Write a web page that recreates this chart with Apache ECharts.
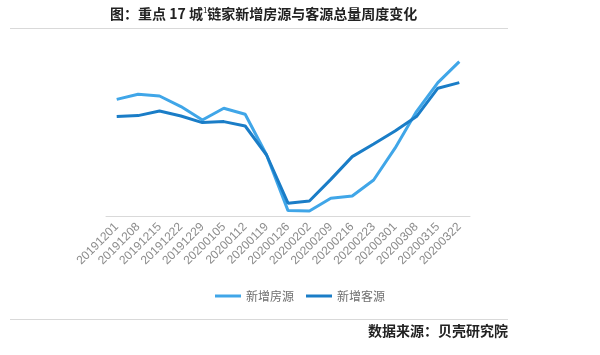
<!DOCTYPE html>
<html><head><meta charset="utf-8">
<script src="https://cdn.jsdelivr.net/npm/echarts@6/dist/echarts.min.js"></script>
<style>html,body{margin:0;padding:0;background:#fff}#c{width:600px;height:355px}</style>
</head><body><div id="c"></div>
<script>
var categories = ['20191201','20191208','20191215','20191222','20191229','20200105','20200112','20200119','20200126','20200202','20200209','20200216','20200223','20200301','20200308','20200315','20200322'];
var newListings = [58.3, 60.9, 60.0, 54.7, 48.0, 53.9, 50.9, 30.5, 2.7, 2.5, 8.9, 10.0, 18.0, 33.9, 52.2, 66.7, 77.2];
var newClients = [49.7, 50.2, 52.5, 50.0, 46.7, 47.2, 45.0, 30.5, 6.4, 7.5, 18.3, 29.7, 36.0, 42.5, 49.7, 63.9, 66.7];
var seriesNames = ['新增房源', '新增客源'];

var chart = echarts.init(document.getElementById('c'));
chart.setOption({
  animation: false,
  graphic: [
    {type: 'text', left: 110, top: 6, style: {
      rich: {
        a: {fontFamily: 'Noto Sans CJK SC', fontSize: 14, fontWeight: 'bold', fill: '#222'},
        s: {fontFamily: 'Noto Sans CJK SC', fontSize: 8, fill: '#222', verticalAlign: 'top', padding: [0,0,8,0]}
      },
      text: '{a|图：重点 17 城}{s|1}{a|链家新增房源与客源总量周度变化}'
    }},
    {type: 'line', shape: {x1: 10, y1: 28.5, x2: 508, y2: 28.5}, style: {stroke: '#d9d9d9', lineWidth: 1}},
    {type: 'line', shape: {x1: 10, y1: 319.5, x2: 508, y2: 319.5}, style: {stroke: '#d9d9d9', lineWidth: 1}},
    {type: 'text', right: 92, top: 324, style: {text: '数据来源：贝壳研究院', fontFamily: 'Noto Sans CJK SC', fontSize: 14, fontWeight: 'bold', fill: '#222'}}
  ],
  legend: {
    data: seriesNames, left: 210, top: 285, itemWidth: 26, itemHeight: 3, itemGap: 12,
    textStyle: {color: '#6f6f6f', fontSize: 12, fontFamily: 'Noto Sans CJK SC'},
    icon: 'rect'
  },
  grid: {left: 106, right: 130, top: 16, bottom: 139},
  xAxis: {
    type: 'category', data: categories, boundaryGap: true,
    axisLine: {lineStyle: {color: '#d9d9d9'}}, axisTick: {show: false},
    axisLabel: {rotate: 45, color: '#8c8c8c', fontSize: 12, fontFamily: 'Liberation Sans', margin: 9, interval: 0}
  },
  yAxis: {type: 'value', min: 0, max: 100, show: false, splitLine: {show: false}},
  series: [
    {name: seriesNames[0], type: 'line', data: newListings, symbol: 'none', lineStyle: {color: '#40a6e8', width: 3}, itemStyle: {color: '#40a6e8'}},
    {name: seriesNames[1], type: 'line', data: newClients, symbol: 'none', lineStyle: {color: '#1a7dc7', width: 3}, itemStyle: {color: '#1a7dc7'}}
  ]
});
</script></body></html>
